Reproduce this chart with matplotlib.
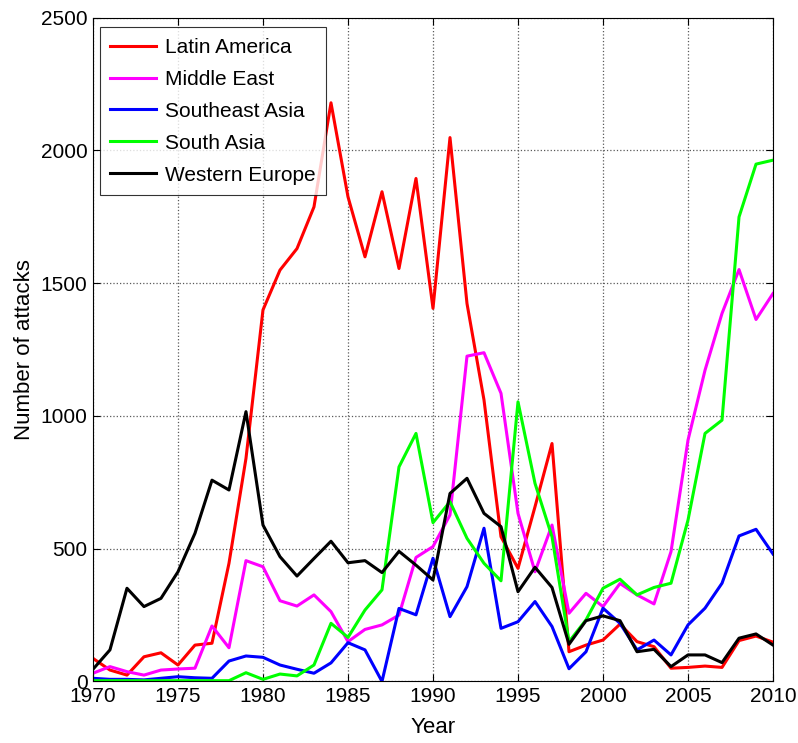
import matplotlib
matplotlib.use('Agg')
import matplotlib.pyplot as plt

years = list(range(1970, 2011))

latin_america = [87, 43, 24, 93, 108, 62, 137, 144, 445, 840, 1399, 1549, 1630, 1787, 2179,
                 1825, 1599, 1844, 1555, 1894, 1405, 2048, 1423, 1060, 545, 426, 658, 896, 112, 137,
                 156, 216, 150, 131, 50, 53, 58, 53, 154, 171, 148]
middle_east = [31, 56, 37, 24, 43, 47, 50, 209, 127, 455, 432, 304, 284, 326, 263,
               150, 196, 213, 250, 467, 508, 627, 1225, 1238, 1085, 633, 413, 589, 257, 332,
               282, 369, 326, 292, 489, 909, 1172, 1386, 1551, 1363, 1461]
southeast_asia = [12, 8, 8, 6, 12, 18, 14, 12, 77, 96, 91, 62, 46, 31, 70,
                  146, 119, 0, 275, 251, 464, 244, 357, 577, 200, 225, 301, 207, 48, 112,
                  276, 219, 119, 156, 100, 213, 276, 370, 548, 573, 480]
south_asia = [3, 3, 3, 3, 3, 3, 3, 3, 3, 33, 8, 28, 21, 62, 219,
              166, 269, 345, 808, 934, 598, 677, 539, 445, 379, 1053, 746, 545, 150, 232,
              351, 385, 326, 354, 370, 608, 934, 984, 1749, 1948, 1963]
western_europe = [46, 119, 351, 282, 313, 413, 558, 758, 721, 1016, 589, 470, 397, 463, 528,
                  447, 455, 410, 490, 438, 382, 708, 765, 633, 583, 338, 430, 354, 140, 229,
                  247, 229, 112, 121, 56, 100, 100, 71, 163, 179, 137]

series = [('Latin America', latin_america, (1, 0, 0)),
          ('Middle East', middle_east, (1, 0, 1)),
          ('Southeast Asia', southeast_asia, (0, 0, 1)),
          ('South Asia', south_asia, (0, 1, 0)),
          ('Western Europe', western_europe, (0, 0, 0))]

plt.rcParams['font.family'] = ['Liberation Sans', 'DejaVu Sans']
fig = plt.figure(figsize=(7.98, 7.43), dpi=100)
ax = fig.add_axes([0.1165, 0.0828, 0.8522, 0.8936])

for name, vals, col in series:
    ax.plot(years, vals, color=col, linewidth=2.2, label=name)

ax.set_xlim(1970, 2010)
ax.set_ylim(0, 2500)
ax.set_xticks(range(1970, 2011, 5))
ax.set_yticks(range(0, 2501, 500))
ax.grid(True, linestyle=':', color='0.35', linewidth=0.9)
ax.tick_params(direction='in', top=True, right=True, labelsize=15, length=5, pad=4)
ax.set_xlabel('Year', fontsize=16, labelpad=8)
ax.set_ylabel('Number of attacks', fontsize=16, labelpad=4)

leg = ax.legend(loc='upper left', bbox_to_anchor=(0.01, 0.985), fontsize=15,
                handlelength=2.2, frameon=True, fancybox=False, borderpad=0.5,
                labelspacing=0.62, handletextpad=0.45, borderaxespad=0)
leg.get_frame().set_edgecolor('black')
leg.get_frame().set_linewidth(0.8)

plt.savefig('out.png', dpi=100)
